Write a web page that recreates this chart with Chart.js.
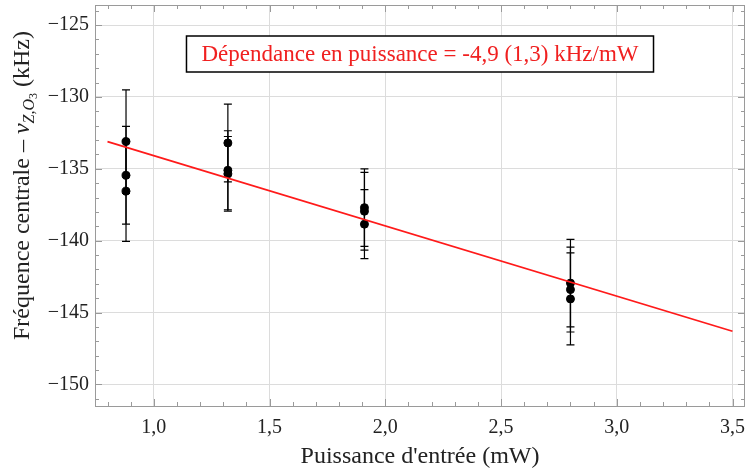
<!DOCTYPE html>
<html>
<head>
<meta charset="utf-8">
<script src="https://cdn.jsdelivr.net/npm/chart.js@4"></script>
<style>
  body { margin: 0; background: #fff; }
  #wrap { width: 750px; height: 475px; }
</style>
</head>
<body>
<div id="wrap"><canvas id="mycanvas"></canvas></div>
<script>
// mesures : puissance (mW), fréquence centrale (kHz), incertitude (kHz)
const puissance = [0.88, 0.88, 0.88, 1.32, 1.32, 1.32, 1.91, 1.91, 1.91, 2.80, 2.80, 2.80];
const frequence = [-133.1, -135.45, -136.55, -133.2, -135.1, -135.35, -137.7, -137.95, -138.85, -142.95, -143.4, -144.05];
const erreur    = [3.6, 3.4, 3.5, 2.7, 2.75, 2.6, 2.7, 2.7, 2.4, 3.05, 2.95, 3.2];

// ajustement linéaire (extrémités)
const ajustX = [0.8, 3.5];
const ajustY = [-133.1, -146.3];

const texteAjust = 'Dépendance en puissance = -4,9 (1,3) kHz/mW';
const titreX = "Puissance d'entrée (mW)";

const police = '"Liberation Serif", serif';
Chart.defaults.font.family = police;

const points = [];
for (let i = 0; i < puissance.length; i++) points.push({x: puissance[i], y: frequence[i]});
const droite = [];
for (let i = 0; i < ajustX.length; i++) droite.push({x: ajustX[i], y: ajustY[i]});

function estMultiple(v, pas) {
  const r = v / pas;
  return Math.abs(r - Math.round(r)) < 1e-6;
}

function graduations(s, pas) {
  const t = [];
  for (let k = Math.ceil(s.min / pas - 1e-6); k <= Math.floor(s.max / pas + 1e-6); k++) {
    t.push({value: Math.round(k * pas * 1000) / 1000});
  }
  s.ticks = t;
}

// barres d'erreur
const barres = {
  id: 'barres',
  beforeDatasetsDraw(chart) {
    const ctx = chart.ctx, sx = chart.scales.x, sy = chart.scales.y;
    ctx.save();
    ctx.strokeStyle = '#000';
    ctx.lineWidth = 1.2;
    for (let i = 0; i < puissance.length; i++) {
      const px = sx.getPixelForValue(puissance[i]);
      const haut = sy.getPixelForValue(frequence[i] + erreur[i]);
      const bas = sy.getPixelForValue(frequence[i] - erreur[i]);
      ctx.beginPath();
      ctx.moveTo(px, haut); ctx.lineTo(px, bas);
      ctx.moveTo(px - 4, haut); ctx.lineTo(px + 4, haut);
      ctx.moveTo(px - 4, bas); ctx.lineTo(px + 4, bas);
      ctx.stroke();
    }
    ctx.restore();
  }
};

// cadre et graduations intérieures
const cadre = {
  id: 'cadre',
  afterDatasetsDraw(chart) {
    const ctx = chart.ctx, a = chart.chartArea;
    const sx = chart.scales.x, sy = chart.scales.y;
    ctx.save();
    ctx.strokeStyle = '#9a9a9a';
    ctx.lineWidth = 1;
    ctx.beginPath();
    for (let k = Math.ceil(sx.min / 0.1 - 1e-6); k <= Math.floor(sx.max / 0.1 + 1e-6); k++) {
      const v = k * 0.1;
      const p = Math.round(sx.getPixelForValue(v)) + 0.5;
      const l = estMultiple(v, 0.5) ? 7 : 4;
      ctx.moveTo(p, a.bottom); ctx.lineTo(p, a.bottom - l);
      ctx.moveTo(p, a.top); ctx.lineTo(p, a.top + l);
    }
    for (let k = Math.ceil(sy.min - 1e-6); k <= Math.floor(sy.max + 1e-6); k++) {
      const p = Math.round(sy.getPixelForValue(k)) + 0.5;
      const l = estMultiple(k, 5) ? 7 : 4;
      ctx.moveTo(a.left, p); ctx.lineTo(a.left + l, p);
      ctx.moveTo(a.right, p); ctx.lineTo(a.right - l, p);
    }
    ctx.stroke();
    ctx.strokeRect(Math.round(a.left) + 0.5, Math.round(a.top) + 0.5,
      Math.round(a.right - a.left) - 1, Math.round(a.bottom - a.top));
    ctx.restore();
  },
  afterDraw(chart) {
    const ctx = chart.ctx, a = chart.chartArea;
    // encadré du résultat
    ctx.save();
    ctx.font = '23px ' + police;
    const w = ctx.measureText(texteAjust).width + 30;
    const h = 36;
    const cx = (a.left + a.right) / 2;
    const top = a.top + 31;
    ctx.fillStyle = '#fff';
    ctx.fillRect(cx - w / 2, top, w, h);
    ctx.strokeStyle = '#000';
    ctx.lineWidth = 1.5;
    ctx.strokeRect(cx - w / 2, top, w, h);
    ctx.fillStyle = '#f02020';
    ctx.textAlign = 'center';
    ctx.textBaseline = 'middle';
    ctx.fillText(texteAjust, cx, top + h / 2 + 1);

    // titre de l'axe vertical avec indices
    const morceaux = [
      {t: 'Fréquence centrale – ', f: '24px ' + police, d: 0},
      {t: 'ν', f: 'italic 24px ' + police, d: 0},
      {t: 'Z,O', f: 'italic 16px ' + police, d: 5},
      {t: '3', f: '12px ' + police, d: 8},
      {t: ' (kHz)', f: '24px ' + police, d: 0}
    ];
    let total = 0;
    for (const m of morceaux) { ctx.font = m.f; m.w = ctx.measureText(m.t).width; total += m.w; }
    ctx.translate(29, (a.top + a.bottom) / 2 - 20);
    ctx.rotate(-Math.PI / 2);
    ctx.fillStyle = '#222';
    ctx.textAlign = 'left';
    ctx.textBaseline = 'alphabetic';
    let pos = -total / 2;
    for (const m of morceaux) {
      ctx.font = m.f;
      ctx.fillText(m.t, pos, m.d);
      pos += m.w;
    }
    ctx.restore();
  }
};

const data = {
  datasets: [
    {
      label: 'ajustement',
      type: 'line',
      data: droite,
      borderColor: '#ff1a1a',
      borderWidth: 1.8,
      pointRadius: 0,
      fill: false,
      order: 0
    },
    {
      label: 'mesures',
      data: points,
      backgroundColor: '#000',
      borderColor: '#000',
      pointRadius: 4,
      pointHoverRadius: 4,
      order: 1
    }
  ]
};

const config = {
  type: 'scatter',
  data,
  plugins: [barres, cadre],
  options: {
    responsive: true,
    maintainAspectRatio: false,
    animation: false,
    layout: { padding: { top: 0, right: 4, left: 0, bottom: 0 } },
    plugins: { legend: { display: false }, tooltip: { enabled: false } },
    scales: {
      x: {
        type: 'linear',
        min: 0.746,
        max: 3.554,
        afterBuildTicks: s => graduations(s, 0.5),
        afterFit: s => { s.height = 69; s.paddingLeft = 0; s.paddingRight = 0; },
        ticks: {
          padding: 10,
          color: '#222',
          font: { size: 20 },
          maxRotation: 0,
          autoSkip: false,
          callback: v => v.toFixed(1).replace('.', ',')
        },
        grid: { color: '#dcdcdc', drawTicks: false },
        border: { display: false },
        title: { display: true, text: titreX, color: '#222', font: { size: 24 }, padding: { top: 0 } }
      },
      y: {
        type: 'linear',
        min: -151.5,
        max: -123.6,
        afterBuildTicks: s => graduations(s, 5),
        afterFit: s => { s.width = 95; s.paddingTop = 0; s.paddingBottom = 0; },
        ticks: {
          padding: 6,
          color: '#222',
          font: { size: 20 },
          autoSkip: false,
          callback: v => '\u2212' + Math.abs(v)
        },
        grid: { color: '#dcdcdc', drawTicks: false },
        border: { display: false }
      }
    }
  }
};

const ctx = document.getElementById('mycanvas');
const myChart = new Chart(ctx, config);
</script>
</body>
</html>
